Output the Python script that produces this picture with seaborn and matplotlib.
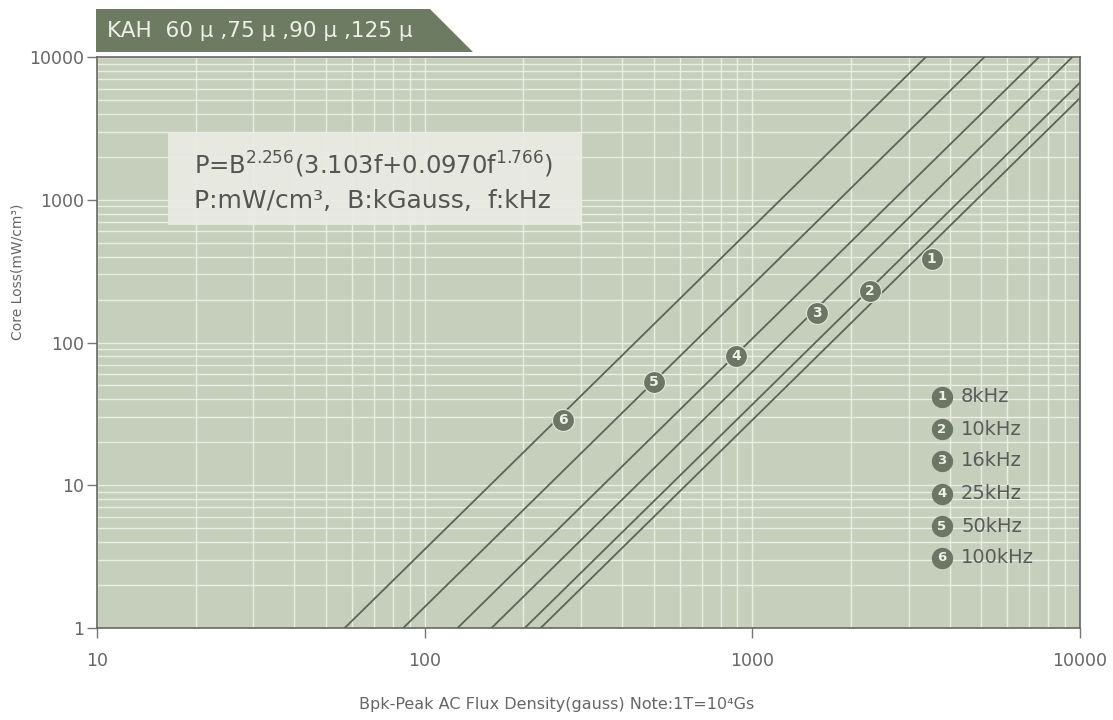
import numpy as np
import pandas as pd
import matplotlib
matplotlib.use("Agg")
import matplotlib.pyplot as plt
import seaborn as sns
from matplotlib.patches import Polygon, Rectangle
from matplotlib.ticker import LogLocator, NullFormatter, FixedLocator

# ---- data -------------------------------------------------------------
curve_ids = ["1", "2", "3", "4", "5", "6"]
freq_labels = ["8kHz", "10kHz", "16kHz", "25kHz", "50kHz", "100kHz"]

# end points of each straight loss line (gauss, mW/cm3)
b_start = [226, 202, 160, 126, 86, 57]
p_start = [1, 1, 1, 1, 1, 1]
b_end = [10000, 10000, 9480, 7500, 5110, 3385]
p_end = [5160, 6610, 10000, 10000, 10000, 10000]

# circled curve markers sitting on the lines
marker_b = [3525, 2280, 1570, 893, 501, 264]
marker_p = [387, 231, 160, 80, 52.5, 28.5]

x_ticks = [10, 100, 1000, 10000]
x_tick_labels = ["10", "100", "1000", "10000"]
y_ticks = [1, 10, 100, 1000, 10000]
y_tick_labels = ["1", "10", "100", "1000", "10000"]

# ---- style ------------------------------------------------------------
sns.set_theme(style="white")
plt.rcParams["font.family"] = ["DejaVu Sans"]
plt.rcParams["mathtext.fontset"] = "dejavusans"

W, H = 1113, 720
fig = plt.figure(figsize=(W / 100, H / 100), dpi=100)


def fx(px):
    return px / W


def fy(py):
    return 1 - py / H


ax = fig.add_axes([fx(97), fy(628), fx(1080) - fx(97), fy(57) - fy(628)])
ax.set_facecolor("#c6cebc")
ax.set_xscale("log")
ax.set_yscale("log")

rows = []
for cid, b0, p0, b1, p1 in zip(curve_ids, b_start, p_start, b_end, p_end):
    rows.append({"curve": cid, "B": b0, "P": p0})
    rows.append({"curve": cid, "B": b1, "P": p1})
lines_df = pd.DataFrame(rows)

line_col = "#5b6557"
sns.lineplot(data=lines_df, x="B", y="P", hue="curve",
             palette=[line_col] * len(curve_ids), estimator=None, sort=False,
             legend=False, linewidth=1.3, ax=ax, zorder=3)

ax.set_xlim(10, 10000)
ax.set_ylim(1, 10000)

# grid
ax.xaxis.set_major_locator(FixedLocator(x_ticks))
ax.yaxis.set_major_locator(FixedLocator(y_ticks))
ax.xaxis.set_minor_locator(LogLocator(base=10, subs=np.arange(2, 10)))
ax.yaxis.set_minor_locator(LogLocator(base=10, subs=np.arange(2, 10)))
ax.xaxis.set_minor_formatter(NullFormatter())
ax.yaxis.set_minor_formatter(NullFormatter())
ax.set_xticklabels(x_tick_labels)
ax.set_yticklabels(y_tick_labels)
ax.grid(which="both", color="#eef2e8", linewidth=1.0, alpha=0.9, zorder=1)
ax.set_axisbelow(True)

ax.tick_params(which="minor", length=0)
ax.tick_params(axis="both", which="major", direction="out", length=7,
               width=1.0, color="#777777", labelcolor="#666666",
               labelsize=12.5, bottom=True, left=True)
ax.tick_params(axis="x", which="major", pad=10)
ax.tick_params(axis="y", which="major", pad=2)
for s in ax.spines.values():
    s.set_color("#666666")
    s.set_linewidth(1.2)
ax.set_xlabel("")
ax.set_ylabel("")

# circled curve numbers on the lines
circ_col = "#6b7664"
ax.scatter(marker_b, marker_p, s=250, color=circ_col, edgecolor="#e4e8dc",
           linewidth=0.8, zorder=5)
for cid, b, p in zip(curve_ids, marker_b, marker_p):
    ax.text(b, p, cid, ha="center", va="center", fontsize=10,
            fontweight="bold", color="#eef1e8", zorder=6)

# key on the right
key_y = [0.4046, 0.3485, 0.2925, 0.2347, 0.1786, 0.1226]
ax.scatter([0.8596] * len(key_y), key_y, s=205, color=circ_col,
           transform=ax.transAxes, zorder=5, clip_on=False)
for cid, lab, yy in zip(curve_ids, freq_labels, key_y):
    ax.text(0.8596, yy, cid, transform=ax.transAxes, ha="center",
            va="center", fontsize=9.5, fontweight="bold", color="#eef1e8",
            zorder=6)
    ax.text(0.879, yy, lab, transform=ax.transAxes, ha="left",
            va="center", fontsize=14, color="#5a5a5a", zorder=6)

# formula box
ax.add_patch(Rectangle((fx(168), fy(225)), fx(582) - fx(168),
                       fy(133) - fy(225), transform=fig.transFigure,
                       facecolor="#e9ebe4", edgecolor="none", alpha=0.95,
                       zorder=4))
fig.text(fx(194), fy(165), r"P=B$^{2.256}$(3.103f+0.0970f$^{1.766}$)",
         ha="left", va="center", fontsize=17.5, color="#555555", zorder=7)
fig.text(fx(194), fy(201), "P:mW/cm³,  B:kGauss,  f:kHz",
         ha="left", va="center", fontsize=18, color="#555555", zorder=7)

# title tab
tab = Polygon([(fx(96), fy(9)), (fx(430), fy(9)), (fx(473), fy(52)),
               (fx(96), fy(52))], closed=True, transform=fig.transFigure,
              facecolor="#6d7b62", edgecolor="none")
fig.patches.append(tab)
fig.text(fx(107), fy(31), "KAH  60 μ ,75 μ ,90 μ ,125 μ", ha="left",
         va="center", fontsize=15.5, color="#eef0e8")

# axis titles
fig.text(fx(18), fy(272), "Core Loss(mW/cm³)", rotation=90, ha="center",
         va="center", fontsize=10, color="#666666")
fig.text(fx(557), fy(705), "Bpk-Peak AC Flux Density(gauss) Note:1T=10⁴Gs",
         ha="center", va="center", fontsize=11.5, color="#666666")

fig.savefig("out.png", dpi=100, facecolor="white")
